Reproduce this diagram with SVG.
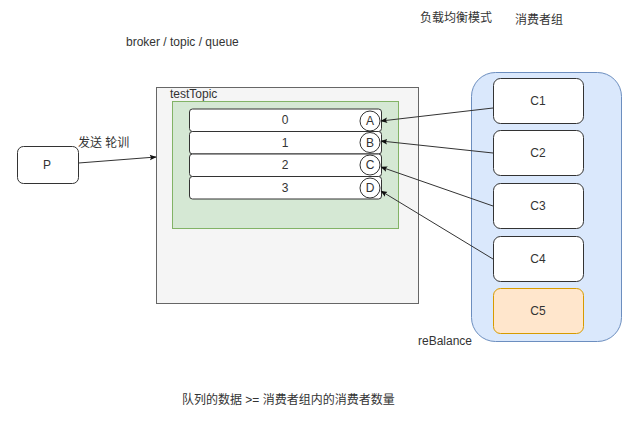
<svg xmlns="http://www.w3.org/2000/svg" width="638" height="421" viewBox="0 0 638 421">
<style>
text{font-family:"Liberation Sans","Noto Sans CJK SC",Arial,sans-serif;font-size:12px;fill:#333}
.c{text-anchor:middle;dominant-baseline:central}
.box{fill:#fff;stroke:#333;stroke-width:1}
.q{fill:#fff;stroke:#333;stroke-width:1}
.edge{stroke:#333;stroke-width:1;fill:none;marker-end:url(#arr)}
</style>
<defs>
<marker id="arr" viewBox="0 0 10 10" refX="9" refY="5" markerWidth="7" markerHeight="7" orient="auto" markerUnits="userSpaceOnUse">
<path d="M0,1 L10,5 L0,9 L2,5 Z" fill="#111"/>
</marker>
</defs>
<rect width="638" height="421" fill="#fff"/>
<text x="420" y="22">负载均衡模式</text>
<text x="515" y="24">消费者组</text>
<text x="126" y="46">broker / topic / queue</text>
<text x="182" y="404">队列的数据 &gt;= 消费者组内的消费者数量</text>
<g id="topic">
<rect x="156.5" y="87.5" width="262" height="216" fill="#f5f5f5" stroke="#666"/>
<text x="170" y="98">testTopic</text>
</g>
<g id="broker-queues">
<rect x="172.5" y="101.5" width="226" height="127" fill="#d5e8d4" stroke="#82b366"/>
</g>
<g id="q0"><rect class="q" x="189.5" y="109" width="192" height="22.5" rx="3"/><text class="c" x="285" y="120">0</text></g>
<g id="q1"><rect class="q" x="189.5" y="131.5" width="192" height="22.5" rx="3"/><text class="c" x="285" y="142.5">1</text></g>
<g id="q2"><rect class="q" x="189.5" y="154" width="192" height="22.5" rx="3"/><text class="c" x="285" y="165">2</text></g>
<g id="q3"><rect class="q" x="189.5" y="176.5" width="192" height="22.5" rx="3"/><text class="c" x="285" y="187.5">3</text></g>
<g id="A"><circle class="q" cx="370" cy="121" r="10"/><text class="c" x="370" y="121">A</text></g>
<g id="B"><circle class="q" cx="370" cy="142.5" r="10"/><text class="c" x="370" y="142.5">B</text></g>
<g id="C"><circle class="q" cx="370" cy="165" r="10"/><text class="c" x="370" y="165">C</text></g>
<g id="D"><circle class="q" cx="370" cy="188" r="10"/><text class="c" x="370" y="188">D</text></g>
<g id="group">
<rect x="471.5" y="72.5" width="150" height="269" rx="24" fill="#dae8fc" stroke="#6c8ebf"/>
<text x="418" y="345">reBalance</text>
</g>
<g id="C1"><rect class="box" x="493.5" y="78.5" width="90" height="45" rx="7"/><text class="c" x="538" y="101">C1</text></g>
<g id="C2"><rect class="box" x="493.5" y="130.5" width="90" height="45" rx="7"/><text class="c" x="538" y="153">C2</text></g>
<g id="C3"><rect class="box" x="493.5" y="183.5" width="90" height="45" rx="7"/><text class="c" x="538" y="206">C3</text></g>
<g id="C4"><rect class="box" x="493.5" y="236.5" width="90" height="45" rx="7"/><text class="c" x="538" y="259">C4</text></g>
<g id="C5"><rect x="493.5" y="288.5" width="90" height="45" rx="7" fill="#ffe6cc" stroke="#d79b00"/><text class="c" x="538" y="311">C5</text></g>
<g id="P"><rect class="box" x="17.5" y="146.5" width="61" height="37" rx="6"/><text class="c" x="47" y="165">P</text></g>
<g id="connectors">
<line class="edge" x1="78.5" y1="163" x2="156" y2="157"/>
<text x="78" y="147">发送 轮训</text>
<line class="edge" x1="493" y1="108" x2="381" y2="121"/>
<line class="edge" x1="493" y1="153" x2="381" y2="141"/>
<line class="edge" x1="493" y1="206" x2="381" y2="167"/>
<line class="edge" x1="493" y1="259" x2="381" y2="191"/>
</g>
</svg>
